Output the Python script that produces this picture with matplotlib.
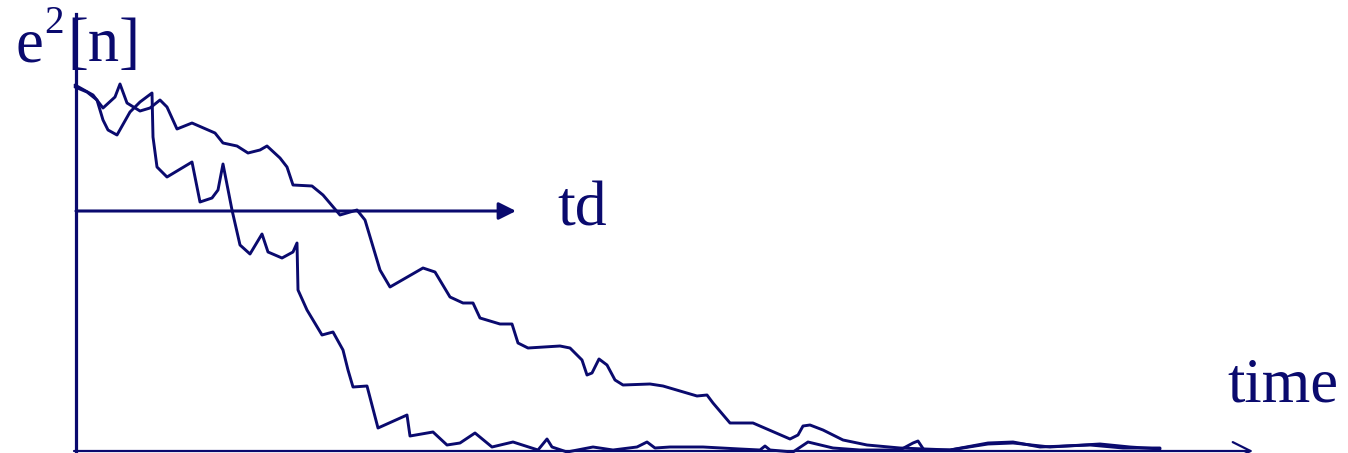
import matplotlib
matplotlib.use("Agg")
import matplotlib.pyplot as plt

plt.rcParams['font.family'] = 'Liberation Serif'

navy = '#0a0a6e'

# curves, in pixel units (x right, y down)
fast_x = [75, 87, 97, 103, 108, 117, 130, 140, 152, 153, 157, 167, 192, 200, 212, 218, 223, 232, 240, 250,
          262, 268, 282, 293, 297, 298, 307, 322, 333, 343, 348, 353, 367, 378, 407, 410, 433, 447, 460, 475,
          492, 513, 538, 547, 552, 567, 593, 613, 637, 647, 655, 670, 703, 740, 760, 765, 770, 793, 808, 833,
          860, 900, 913, 918, 924, 950, 988, 1013, 1040, 1090, 1123, 1143, 1160]
fast_y = [87, 92, 100, 120, 130, 135, 112, 102, 93, 137, 167, 177, 162, 202, 198, 190, 164, 210, 245, 254,
          234, 252, 258, 252, 243, 290, 310, 335, 332, 350, 370, 387, 386, 428, 415, 436, 432, 445, 443, 433,
          447, 442, 450, 439, 447, 452, 447, 450, 447, 442, 448, 447, 447, 449, 450, 446, 450, 452, 442, 448,
          450, 450, 443, 441, 450, 450, 443, 442, 447, 445, 448, 448, 448]

slow_x = [75, 93, 103, 115, 120, 127, 140, 150, 160, 167, 177, 192, 215, 223, 237, 248, 260, 267, 280, 287,
          293, 312, 323, 340, 357, 365, 380, 390, 423, 435, 450, 463, 473, 480, 500, 512, 518, 528, 560, 570,
          582, 587, 592, 599, 607, 615, 623, 650, 663, 697, 707, 713, 730, 753, 790, 798, 803, 810, 823, 843,
          867, 900, 950, 988, 1013, 1050, 1100, 1130, 1160]
slow_y = [85, 95, 108, 97, 84, 103, 111, 108, 100, 107, 129, 123, 133, 143, 146, 153, 150, 146, 158, 167,
          185, 186, 195, 215, 210, 220, 270, 287, 268, 272, 297, 303, 303, 318, 324, 324, 343, 348, 346, 348,
          360, 375, 373, 359, 365, 380, 385, 384, 386, 396, 395, 403, 423, 423, 439, 435, 426, 425, 430, 440,
          445, 448, 450, 444, 443, 447, 444, 447, 449]

fig = plt.figure(figsize=(13.48, 4.53), dpi=100)
ax = fig.add_axes([0, 0, 1, 1])
ax.set_xlim(0, 1348)
ax.set_ylim(453, 0)
ax.axis('off')

ax.plot(fast_x, fast_y, color=navy, lw=2.1, solid_joinstyle='round', solid_capstyle='round')
ax.plot(slow_x, slow_y, color=navy, lw=2.1, solid_joinstyle='round', solid_capstyle='round')

# axes
ax.plot([76, 76], [14, 453], color=navy, lw=2.3)
ax.annotate('', xy=(1253, 451), xytext=(74, 451),
            arrowprops=dict(arrowstyle='->', color=navy, lw=1.6, mutation_scale=32, shrinkA=0, shrinkB=0))
ax.annotate('', xy=(516, 211), xytext=(76, 211),
            arrowprops=dict(arrowstyle='-|>', color=navy, lw=2.2, mutation_scale=26, shrinkA=0, shrinkB=0))

ax.text(15, 61, 'e', fontsize=45, color=navy, va='baseline')
ax.text(44, 33, '2', fontsize=28, color=navy, va='baseline')
ax.text(67, 61, '[n]', fontsize=45, color=navy, va='baseline')
ax.text(557, 226, 'td', fontsize=46, color=navy, va='baseline')
ax.text(1227, 402, 'time', fontsize=45, color=navy, va='baseline')

fig.savefig('out.png', dpi=100)
